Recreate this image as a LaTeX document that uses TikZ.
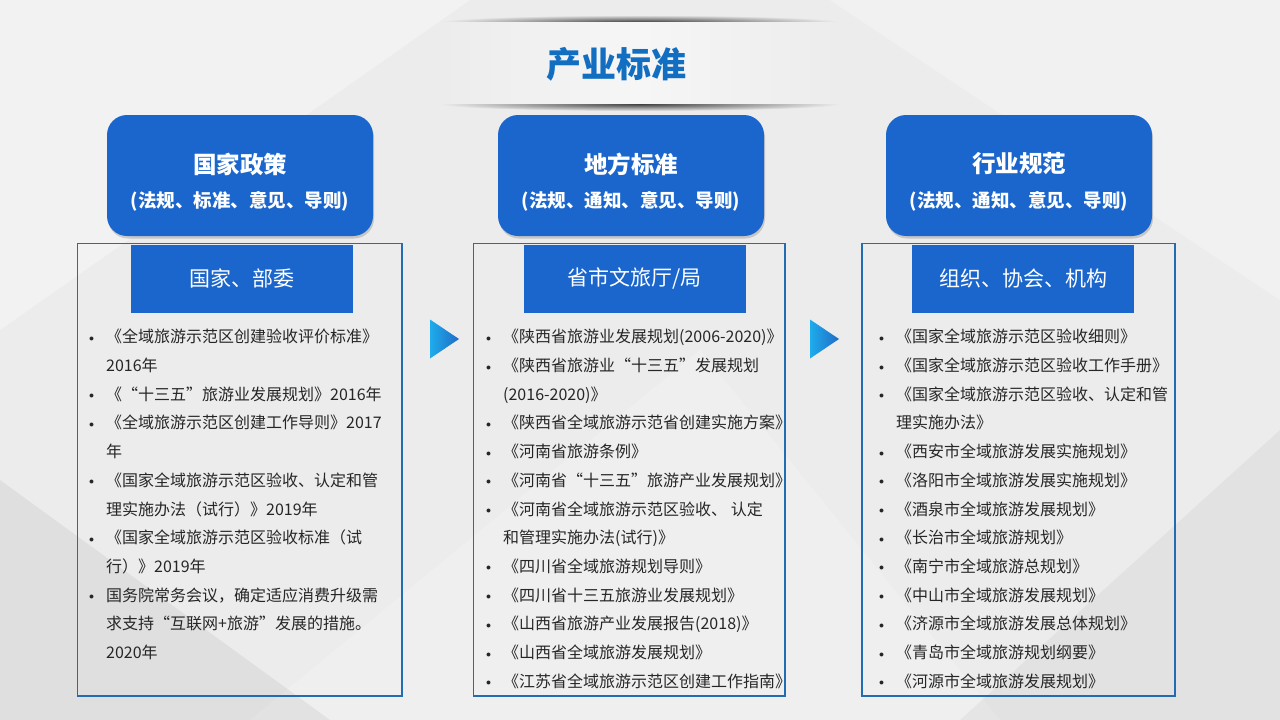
\documentclass[tikz,border=0pt]{standalone}
\usepackage{fontspec}
\setmainfont{Noto Sans CJK SC}
\usetikzlibrary{positioning,shadows}

\definecolor{bg}{RGB}{236,236,236}
\definecolor{band}{RGB}{246,246,246}
\definecolor{boxblue}{RGB}{27,102,204}
\definecolor{titleblue}{RGB}{17,110,192}
\definecolor{frameblue}{RGB}{34,108,180}
\definecolor{txt}{RGB}{38,38,38}
\definecolor{arrl}{RGB}{30,172,236}
\definecolor{arrr}{RGB}{32,108,198}

\newcommand\itm{\raisebox{1.5pt}{\fontsize{10}{10}\selectfont$\bullet$}}

\begin{document}
\begin{tikzpicture}[x=1pt,y=-1pt
	,every node/.append style={inner sep=0pt, text=txt}
	,box/.style={rounded corners=20pt, fill=boxblue, minimum width=266pt, minimum height=121pt
		, drop shadow={shadow xshift=1pt, shadow yshift=-2.5pt, opacity=.16, fill=black}}
	,boxt/.style={text=white, font=\bfseries\fontsize{23.5}{23.5}\selectfont}
	,boxs/.style={text=white, font=\bfseries\fontsize{18.5}{18.5}\selectfont}
	,head/.style={fill=boxblue, minimum width=222pt, minimum height=68pt, text=white, font=\fontsize{21}{21}\selectfont}
	,frm/.style={draw=frameblue, line width=1.6pt, minimum height=452.5pt}
	,lst/.style={anchor=base west, font=\fontsize{16}{28.7}\selectfont}
]
	\useasboundingbox (0,0) rectangle (1280,720);
	% background
	\fill[bg] (0,0) rectangle (1280,720);
	\fill[white, opacity=.35] (0,0) -- (470,0) -- (0,330) -- cycle;
	\fill[white, opacity=.3] (830,0) -- (1280,0) -- (1280,300) -- cycle;
	\fill[white, opacity=.2] (250,720) -- (700,350) -- (1000,720) -- cycle;
	\fill[black, opacity=.05] (0,480) -- (330,720) -- (0,720) -- cycle;
	\fill[black, opacity=.04] (1280,430) -- (1280,720) -- (960,720) -- cycle;

	% title band
	\shade[inner color=black!75, outer color=bg] (640,22) ellipse (200 and 7);
	\shade[inner color=black!75, outer color=bg] (640,104) ellipse (200 and 7);
	\shade[left color=bg, right color=bg, middle color=band] (440,22) rectangle (840,103.5);
	\node[text=titleblue, font=\bfseries\fontsize{35}{35}\selectfont] (T) at (616,64) {产业标准};

	% frames
	\node[frm, minimum width=324.5pt] (FA) at (239.8,469.8) {};
	\node[frm, minimum width=311.7pt] (FB) at (629.2,469.8) {};
	\node[frm, minimum width=313pt] (FC) at (1018.5,469.8) {};

	% headers
	\node[head] (HA) at (241.9,278.9) {国家、部委};
	\node[head] (HB) at (634.5,278.9) {省市文旅厅/局};
	\node[head] (HC) at (1023,278.9) {组织、协会、机构};

	% blue boxes
	\node[box] (A) at (240,175.5) {};
	\node[boxt] (A1) at ([yshift=11.5pt]A.center) {国家政策};
	\node[boxs] (A2) at ([yshift=-26pt]A.center) {(法规、标准、意见、导则)};
	\node[box] (B) at (631,175.5) {};
	\node[boxt] (B1) at ([yshift=11.5pt]B.center) {地方标准};
	\node[boxs] (B2) at ([yshift=-26pt]B.center) {(法规、通知、意见、导则)};
	\node[box] (C) at (1019,175.5) {};
	\node[boxt] (C1) at ([yshift=11.5pt]C.center) {行业规范};
	\node[boxs] (C2) at ([yshift=-26pt]C.center) {(法规、通知、意见、导则)};

	% lists
	\node[lst] (LA) at (89,342.8) {\begin{tabular}[t]{@{}p{17pt}@{}l@{}}
		\itm & 《全域旅游示范区创建验收评价标准》\\
		& 2016年\\
		\itm & 《“十三五”旅游业发展规划》2016年\\
		\itm & 《全域旅游示范区创建工作导则》2017\\
		& 年\\
		\itm & 《国家全域旅游示范区验收、认定和管\\
		& 理实施办法（试行）》2019年\\
		\itm & 《国家全域旅游示范区验收标准（试\\
		& 行）》2019年\\
		\itm & 国务院常务会议，确定适应消费升级需\\
		& 求支持“互联网+旅游”发展的措施。\\
		& 2020年
	\end{tabular}};
	\node[lst] (LB) at (486,342.8) {\begin{tabular}[t]{@{}p{17pt}@{}l@{}}
		\itm & 《陕西省旅游业发展规划(2006-2020)》\\
		\itm & 《陕西省旅游业“十三五”发展规划\\
		& (2016-2020)》\\
		\itm & 《陕西省全域旅游示范省创建实施方案》\\
		\itm & 《河南省旅游条例》\\
		\itm & 《河南省“十三五”旅游产业发展规划》\\
		\itm & 《河南省全域旅游示范区验收、 认定\\
		& 和管理实施办法(试行)》\\
		\itm & 《四川省全域旅游规划导则》\\
		\itm & 《四川省十三五旅游业发展规划》\\
		\itm & 《山西省旅游产业发展报告(2018)》\\
		\itm & 《山西省全域旅游发展规划》\\
		\itm & 《江苏省全域旅游示范区创建工作指南》
	\end{tabular}};
	\node[lst] (LC) at (879,342.8) {\begin{tabular}[t]{@{}p{17pt}@{}l@{}}
		\itm & 《国家全域旅游示范区验收细则》\\
		\itm & 《国家全域旅游示范区验收工作手册》\\
		\itm & 《国家全域旅游示范区验收、认定和管\\
		& 理实施办法》\\
		\itm & 《西安市全域旅游发展实施规划》\\
		\itm & 《洛阳市全域旅游发展实施规划》\\
		\itm & 《酒泉市全域旅游发展规划》\\
		\itm & 《长治市全域旅游规划》\\
		\itm & 《南宁市全域旅游总规划》\\
		\itm & 《中山市全域旅游发展规划》\\
		\itm & 《济源市全域旅游发展总体规划》\\
		\itm & 《青岛市全域旅游规划纲要》\\
		\itm & 《河源市全域旅游发展规划》
	\end{tabular}};

	% arrows between frames
	\foreach \x in {430,810}
		\shade[left color=arrl, right color=arrr] (\x,319.5) -- (\x+29,339) -- (\x,358.5) -- cycle;
\end{tikzpicture}
\end{document}
